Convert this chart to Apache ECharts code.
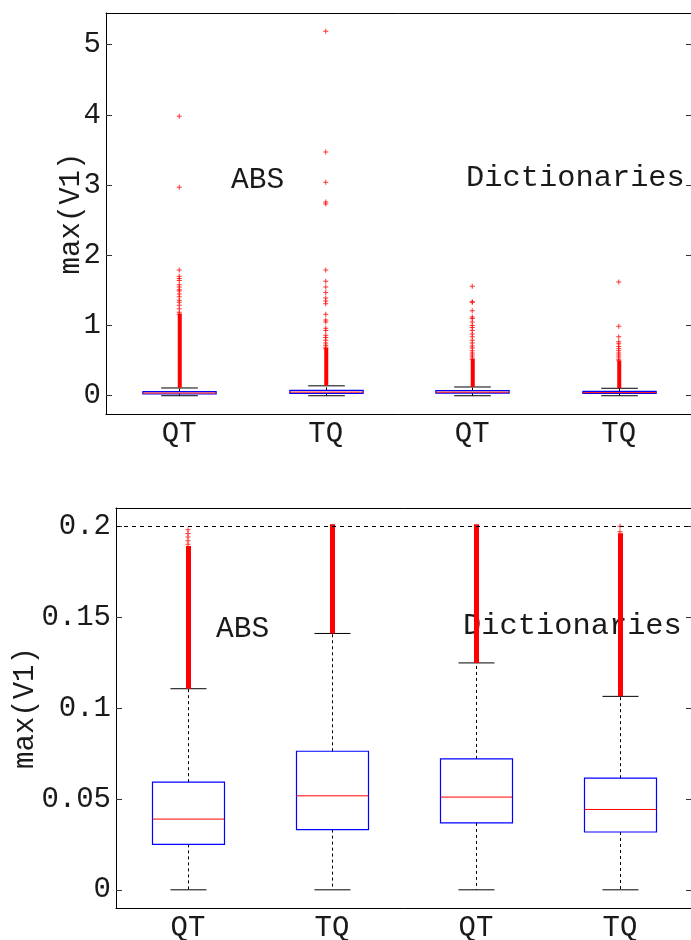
<!DOCTYPE html>
<html><head><meta charset="utf-8">
<script src="https://cdn.jsdelivr.net/npm/echarts@6/dist/echarts.min.js"></script>
<style>html,body{margin:0;padding:0;background:#fff}#c{width:691px;height:940px}</style>
</head><body><div id="c"></div>
<script>
const categories = ['QT', 'TQ', 'QT', 'TQ'];
// [lower whisker, Q1, median, Q3, upper whisker]
const boxStats = [
  [0, 0.0250, 0.0389, 0.0592, 0.1106],
  [0, 0.0331, 0.0517, 0.0762, 0.1410],
  [0, 0.0368, 0.0510, 0.0720, 0.1248],
  [0, 0.0318, 0.0442, 0.0614, 0.1064]
];
// top panel: continuous runs of outliers [from, to] and isolated outliers
const fullDenseRuns = [[0.115, 1.14], [0.145, 0.65], [0.125, 0.50], [0.108, 0.47]];
const fullOutliers = [
  [3.98, 2.97, 1.79, 1.70, 1.67, 1.64, 1.58, 1.55, 1.51, 1.49, 1.45, 1.41, 1.36, 1.33, 1.29, 1.24, 1.19, 1.16],
  [5.19, 3.47, 3.04, 2.76, 2.73, 1.79, 1.63, 1.55, 1.47, 1.39, 1.35, 1.31, 1.16, 1.08, 1.05, 0.96, 0.93, 0.86, 0.83, 0.79, 0.75, 0.72, 0.69, 0.67],
  [1.56, 1.34, 1.33, 1.21, 1.12, 1.10, 1.05, 1.00, 0.97, 0.93, 0.88, 0.84, 0.79, 0.75, 0.71, 0.68, 0.64, 0.61, 0.58, 0.55, 0.52],
  [1.62, 0.99, 0.84, 0.77, 0.74, 0.70, 0.67, 0.64, 0.61, 0.58, 0.55, 0.52, 0.50]
];
// bottom panel (values up to 0.2)
const zoomDenseRuns = [[0.1106, 0.188], [0.141, 0.2], [0.1248, 0.2], [0.1064, 0.195]];
const zoomOutliers = [[0.190, 0.192, 0.194, 0.196, 0.198], [], [], [0.197, 0.2]];
const refLine = 0.2;
const topTicks = [0, 1, 2, 3, 4, 5];
const bottomTicks = [0, 0.05, 0.1, 0.15, 0.2];
const yName = 'max(V1)';
const groupLabels = ['ABS', 'Dictionaries'];

const FONT = '"Liberation Mono", "Courier New", monospace';
const TXT = '#1a1a1a';
const PLUS = 'path://M2,0h1v2h2v1h-2v2h-1v-2h-2v-1h2z';

function boxRender(params, api) {
  const x = api.value(0);
  const lo = api.coord([x, api.value(1)]);
  const q1 = api.coord([x, api.value(2)]);
  const med = api.coord([x, api.value(3)]);
  const q3 = api.coord([x, api.value(4)]);
  const hi = api.coord([x, api.value(5)]);
  const band = api.size([1, 0])[0];
  const bw = band * 0.5, cw = band * 0.25, cx = Math.round(lo[0]) + 0.5;
  const blk = {stroke: '#000', lineWidth: 1};
  const dash = {stroke: '#000', lineWidth: 1, lineDash: [3, 3]};
  return {type: 'group', children: [
    {type: 'line', shape: {x1: cx, y1: q3[1], x2: cx, y2: hi[1]}, style: dash},
    {type: 'line', shape: {x1: cx, y1: q1[1], x2: cx, y2: lo[1]}, style: dash},
    {type: 'line', shape: {x1: cx - cw / 2, y1: hi[1], x2: cx + cw / 2, y2: hi[1]}, style: blk},
    {type: 'line', shape: {x1: cx - cw / 2, y1: lo[1], x2: cx + cw / 2, y2: lo[1]}, style: blk},
    {type: 'rect', shape: {x: cx - bw / 2, y: q3[1], width: bw, height: q1[1] - q3[1]}, style: {fill: 'none', stroke: '#0000ff', lineWidth: 1.2}},
    {type: 'line', shape: {x1: cx - bw / 2, y1: med[1], x2: cx + bw / 2, y2: med[1]}, style: {stroke: '#ff0000', lineWidth: 1}}
  ]};
}
function runRender(w) {
  return function (params, api) {
    const x = api.value(0);
    const a = api.coord([x, api.value(1)]);
    const b = api.coord([x, api.value(2)]);
    return {type: 'rect', shape: {x: a[0] - w / 2 + 0.5, y: b[1] - 2, width: w, height: a[1] - b[1] + 2}, style: {fill: '#ff0000'}};
  };
}

const boxData = boxStats.map((s, i) => [i].concat(s));
const toRuns = runs => runs.map((r, i) => [i, r[0], r[1]]);
const toPts = lists => lists.flatMap((l, i) => l.map(v => [i, v]));

function xAxes(gi) {
  return [
    {type: 'category', gridIndex: gi, data: categories, position: 'bottom',
     axisLine: {onZero: false, lineStyle: {color: '#000', width: 1}},
     axisTick: {inside: true, alignWithLabel: true, length: 6, lineStyle: {color: '#333'}},
     axisLabel: {color: TXT, fontFamily: FONT, fontSize: 29, margin: 6}},
    {type: 'category', gridIndex: gi, data: categories, position: 'top',
     axisLine: {onZero: false, lineStyle: {color: '#000', width: 1}},
     axisTick: {inside: true, alignWithLabel: true, length: 6, lineStyle: {color: '#333'}},
     axisLabel: {show: false}}
  ];
}
function yAxes(gi, min, max, ticks, nameGap) {
  return [
    {type: 'value', gridIndex: gi, min: min, max: max, position: 'left',
     name: yName, nameLocation: 'middle', nameGap: nameGap, nameRotate: 90, nameMoveOverlap: false,
     nameTextStyle: {color: TXT, fontFamily: FONT, fontSize: 29},
     splitLine: {show: false},
     axisLine: {show: true, onZero: false, lineStyle: {color: '#000', width: 1}},
     axisTick: {show: true, inside: true, length: 6, customValues: ticks, lineStyle: {color: '#333'}},
     axisLabel: {color: TXT, fontFamily: FONT, fontSize: 29, margin: 5, customValues: ticks}},
    {type: 'value', gridIndex: gi, min: min, max: max, position: 'right',
     splitLine: {show: false},
     axisLine: {show: true, onZero: false, lineStyle: {color: '#000', width: 1}},
     axisTick: {show: true, inside: true, length: 6, customValues: ticks, lineStyle: {color: '#333'}},
     axisLabel: {show: false}}
  ];
}

const chart = echarts.init(document.getElementById('c'), null, {renderer: 'canvas'});
chart.setOption({
  animation: false,
  backgroundColor: '#fff',
  grid: [
    {left: 106, right: -1, top: 13, bottom: 526, outerBoundsMode: 'none', containLabel: false},
    {left: 116, right: -1, top: 508, bottom: 32, outerBoundsMode: 'none', containLabel: false}
  ],
  xAxis: xAxes(0).concat(xAxes(1)),
  yAxis: yAxes(0, -0.26, 5.45, topTicks, 20).concat(yAxes(1, -0.01, 0.21, bottomTicks, 76)),
  graphic: [
    {type: 'text', x: 231, y: 180, style: {text: groupLabels[0], font: '29.5px ' + FONT, fill: TXT, verticalAlign: 'middle'}},
    {type: 'text', x: 466, y: 178, style: {text: groupLabels[1], font: '30.4px ' + FONT, fill: TXT, verticalAlign: 'middle'}},
    {type: 'text', x: 216, y: 629, style: {text: groupLabels[0], font: '29.5px ' + FONT, fill: TXT, verticalAlign: 'middle'}},
    {type: 'text', x: 463, y: 626, style: {text: groupLabels[1], font: '30.4px ' + FONT, fill: TXT, verticalAlign: 'middle'}}
  ],
  series: [
    {type: 'custom', xAxisIndex: 0, yAxisIndex: 0, renderItem: boxRender, data: boxData, z: 2},
    {type: 'custom', xAxisIndex: 0, yAxisIndex: 0, renderItem: runRender(4), data: toRuns(fullDenseRuns), z: 3},
    {type: 'scatter', xAxisIndex: 0, yAxisIndex: 0, symbol: PLUS, symbolSize: 5, itemStyle: {color: '#ff0000'}, data: toPts(fullOutliers), z: 3},
    {type: 'custom', xAxisIndex: 2, yAxisIndex: 2, renderItem: boxRender, data: boxData, z: 2,
     markLine: {silent: true, symbol: 'none', label: {show: false}, lineStyle: {color: '#000', type: [4, 4], width: 1},
       data: [{yAxis: refLine}]}},
    {type: 'custom', xAxisIndex: 2, yAxisIndex: 2, renderItem: runRender(5), data: toRuns(zoomDenseRuns), z: 3},
    {type: 'scatter', xAxisIndex: 2, yAxisIndex: 2, symbol: PLUS, symbolSize: 5, itemStyle: {color: '#ff0000'}, data: toPts(zoomOutliers), z: 3}
  ]
});
</script>
</body></html>
